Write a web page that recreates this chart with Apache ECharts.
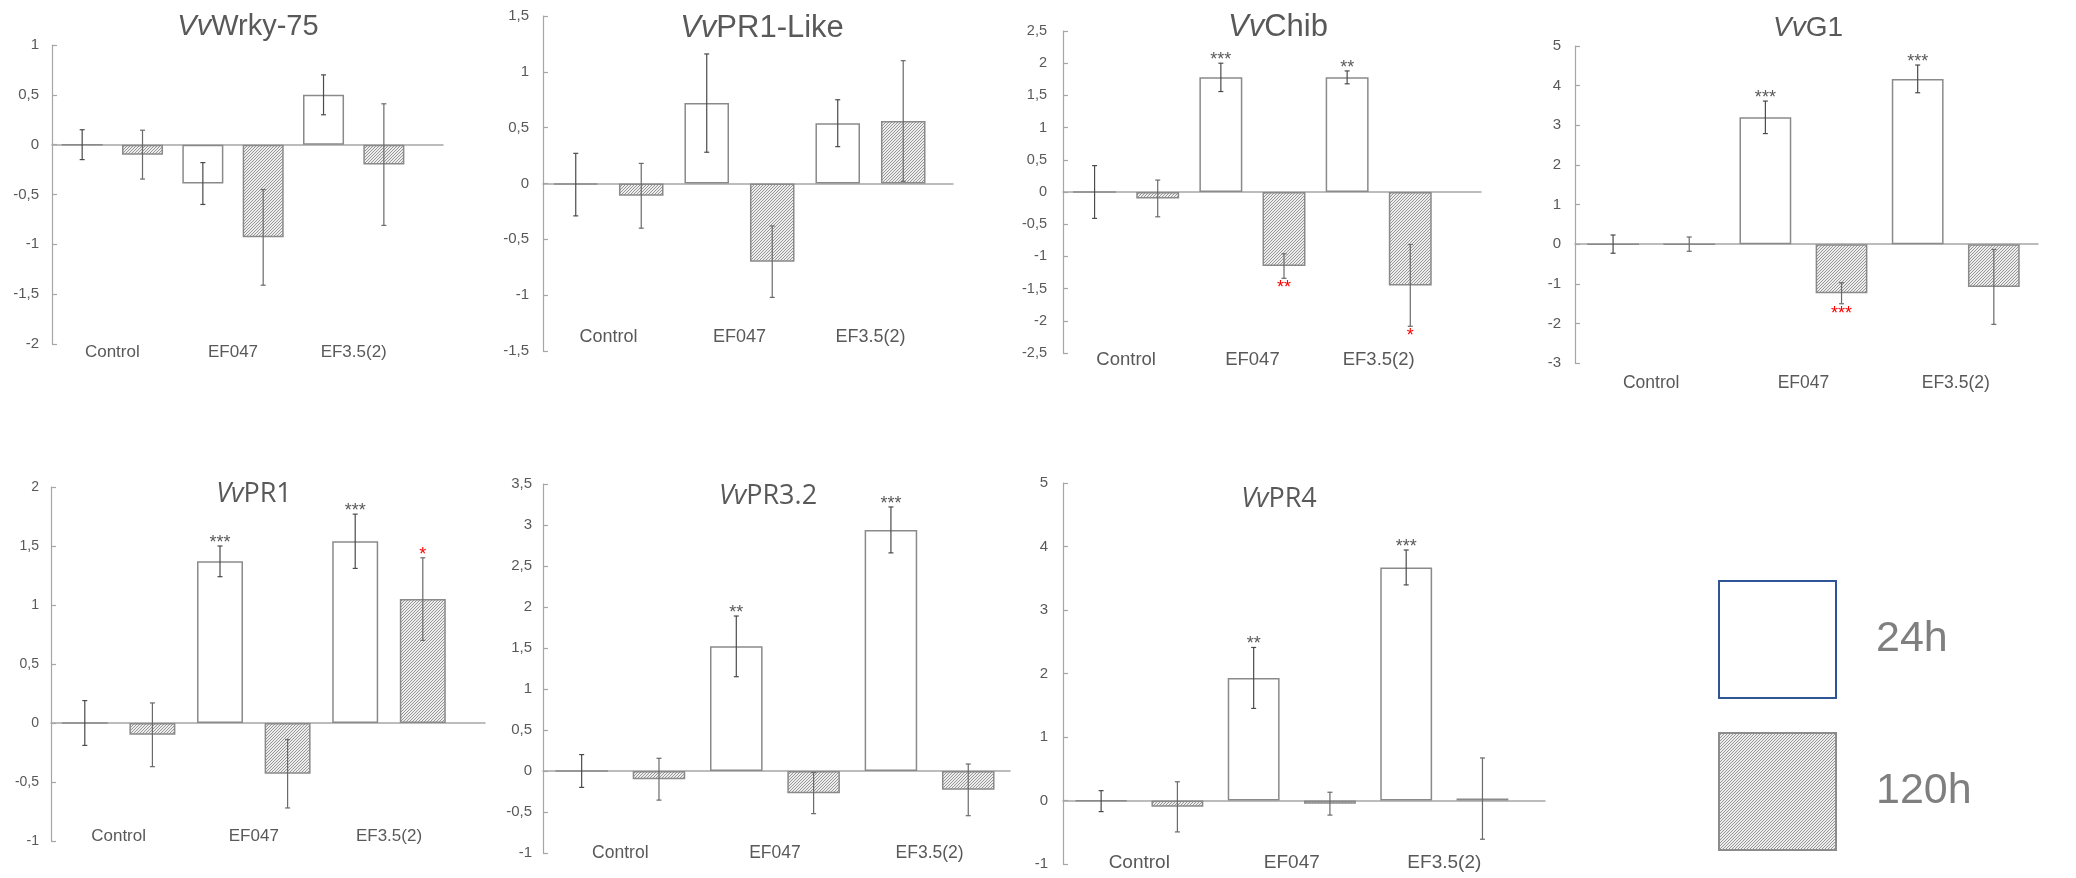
<!DOCTYPE html>
<html>
<head>
<meta charset="utf-8">
<script src="https://cdn.jsdelivr.net/npm/echarts@6/dist/echarts.min.js"></script>
<style>
html,body{margin:0;padding:0;background:#ffffff;}
#chart{width:2076px;height:878px;}
</style>
</head>
<body>
<div id="chart"></div>
<script>
// ---------------- DATA ----------------
const genePrefix = 'Vv';
const genes = ['Wrky-75', 'PR1-Like', 'Chib', 'G1', 'PR1', 'PR3.2', 'PR4'];
const categories = ['Control', 'EF047', 'EF3.5(2)'];
const seriesNames = ['24h', '120h'];

const mean24 = [
  [0, -0.39, 0.50],
  [-0.01, 0.72, 0.54],
  [0, 1.78, 1.78],
  [0, 3.20, 4.17],
  [0, 1.37, 1.54],
  [0, 1.52, 2.94],
  [-0.01, 1.93, 3.67]
];
const err24 = [
  [0.15, 0.21, 0.20],
  [0.28, 0.44, 0.21],
  [0.41, 0.22, 0.10],
  [0.23, 0.41, 0.35],
  [0.19, 0.13, 0.23],
  [0.20, 0.37, 0.28],
  [0.165, 0.48, 0.275]
];
const mean120 = [
  [-0.10, -0.93, -0.20],
  [-0.11, -0.70, 0.56],
  [-0.10, -1.15, -1.45],
  [0, -1.24, -1.08],
  [-0.10, -0.43, 1.05],
  [-0.10, -0.27, -0.23],
  [-0.10, -0.05, 0.03]
];
const err120 = [
  [0.245, 0.48, 0.61],
  [0.29, 0.32, 0.54],
  [0.285, 0.19, 0.635],
  [0.18, 0.265, 0.945],
  [0.27, 0.29, 0.35],
  [0.255, 0.25, 0.315],
  [0.395, 0.18, 0.64]
];
const stars24 = [
  ['', '', ''],
  ['', '', ''],
  ['', '***', '**'],
  ['', '***', '***'],
  ['', '***', '***'],
  ['', '**', '***'],
  ['', '**', '***']
];
const stars120 = [
  ['', '', ''],
  ['', '', ''],
  ['', '**', '*'],
  ['', '***', ''],
  ['', '', '*'],
  ['', '', ''],
  ['', '', '']
];
// y-axis tick ranges
const yMin = [-2, -1.5, -2.5, -3, -1, -1, -1];
const yMax = [1, 1.5, 2.5, 5, 2, 3.5, 5];
const yStep = [0.5, 0.5, 0.5, 1, 0.5, 0.5, 1];

// ---------------- LAYOUT (positions / sizes / styles) ----------------
const layout = [
  {left: 52,   top: 45,  width: 391, height: 299, xMax: 2.74, tx: 248,  ty: 27,  ts: 29, tf: 'Liberation Sans', tick: 15,   tm: 13, cat: 17,   cm: 0},
  {left: 543,  top: 16,  width: 410, height: 335, xMax: 2.63, tx: 762,  ty: 28,  ts: 31, tf: 'Liberation Sans', tick: 15,   tm: 14, cat: 18,   cm: -23},
  {left: 1063, top: 31,  width: 418, height: 322, xMax: 2.81, tx: 1278, ty: 27,  ts: 31, tf: 'Liberation Sans', tick: 14.5, tm: 16, cat: 18.5, cm: -3},
  {left: 1575, top: 46,  width: 463, height: 317, xMax: 2.54, tx: 1808, ty: 28,  ts: 28, tf: 'Liberation Sans', tick: 15,   tm: 14, cat: 17.5, cm: 11},
  {left: 51,   top: 487, width: 434, height: 354, xMax: 2.71, tx: 254,  ty: 494, ts: 27, tf: 'Open Sans',       tick: 14,   tm: 12, cat: 17,   cm: -13},
  {left: 543,  top: 484, width: 467, height: 369, xMax: 2.52, tx: 768,  ty: 496, ts: 27, tf: 'Open Sans',       tick: 15,   tm: 11, cat: 17.5, cm: -9},
  {left: 1063, top: 483, width: 482, height: 381, xMax: 2.66, tx: 1279, ty: 499, ts: 27, tf: 'Open Sans',       tick: 15,   tm: 15, cat: 19,   cm: -11}
];
const pairOffset = 0.25;
const textColor = '#595959';
const axisColor = '#a6a6a6';

// hatch pattern for 120h
function makeHatch() {
  const c = document.createElement('canvas');
  c.width = 3; c.height = 3;
  const g = c.getContext('2d');
  g.fillStyle = '#ededed';
  g.fillRect(0, 0, 3, 3);
  g.fillStyle = '#969696';
  g.fillRect(0, 2, 1, 1);
  g.fillRect(1, 1, 1, 1);
  g.fillRect(2, 0, 1, 1);
  return c;
}
const hatch = {image: makeHatch(), repeat: 'repeat'};

function fmtComma(v) {
  return String(Math.round(v * 100) / 100).replace('.', ',');
}

const grids = [], xAxes = [], yAxes = [], titles = [], series = [];

function errRender(means, errs, stars, lineColor, starColor) {
  return function (params, api) {
    const x = api.value(0), m = api.value(1), e = api.value(2);
    const top = api.coord([x, m + e]);
    const bot = api.coord([x, m - e]);
    const cap = 2.5;
    const st = {stroke: lineColor, lineWidth: 1.2};
    const children = [
      {type: 'line', shape: {x1: top[0], y1: top[1], x2: bot[0], y2: bot[1]}, style: st},
      {type: 'line', shape: {x1: top[0] - cap, y1: top[1], x2: top[0] + cap, y2: top[1]}, style: st},
      {type: 'line', shape: {x1: bot[0] - cap, y1: bot[1], x2: bot[0] + cap, y2: bot[1]}, style: st}
    ];
    const s = stars[params.dataIndex];
    if (s) {
      children.push({
        type: 'text',
        x: top[0],
        y: m >= 0 ? top[1] - 3 : bot[1] + 10,
        style: {text: s, fill: starColor, font: '18px "Liberation Sans", Arial, sans-serif', align: 'center', verticalAlign: 'middle'}
      });
    }
    return {type: 'group', children: children};
  };
}

genes.forEach(function (gene, k) {
  const L = layout[k];
  grids.push({left: L.left, top: L.top, width: L.width, height: L.height, containLabel: false});
  // x axis drawn at zero (line only)
  xAxes.push({
    type: 'value', gridIndex: k, min: -0.5, max: L.xMax,
    axisLine: {show: true, onZero: true, lineStyle: {color: axisColor, width: 1.5}},
    axisTick: {show: false}, axisLabel: {show: false}, splitLine: {show: false}
  });
  // x axis at bottom: category labels only
  xAxes.push({
    type: 'value', gridIndex: k, min: -0.5, max: L.xMax, position: 'bottom',
    axisLine: {show: false, onZero: false}, axisTick: {show: false}, splitLine: {show: false},
    axisLabel: {
      show: true, customValues: categories.map(function (c, i) { return i; }),
      formatter: function (v) { return categories[Math.round(v)] || ''; },
      color: textColor, fontSize: L.cat, margin: L.cm, fontFamily: 'Liberation Sans'
    }
  });
  yAxes.push({
    type: 'value', gridIndex: k, min: yMin[k], max: yMax[k], interval: yStep[k], position: 'left',
    axisLine: {show: true, onZero: false, lineStyle: {color: axisColor, width: 1.2}},
    axisTick: {show: true, inside: true, length: 5, lineStyle: {color: axisColor, width: 1.2}},
    splitLine: {show: false},
    axisLabel: {formatter: fmtComma, color: textColor, fontSize: L.tick, margin: L.tm, fontFamily: 'Liberation Sans'}
  });
  titles.push({
    text: '{i|' + genePrefix + '}{n|' + gene + '}',
    left: L.tx, top: L.ty, padding: 0,
    textAlign: 'center', textVerticalAlign: 'middle',
    textStyle: {
      fontSize: L.ts, color: textColor, fontWeight: 'normal', fontFamily: L.tf,
      rich: {
        i: {fontStyle: 'italic', fontSize: L.ts, color: textColor, fontFamily: L.tf},
        n: {fontSize: L.ts, color: textColor, fontFamily: L.tf}
      }
    }
  });
  const xa = 2 * k;
  const d24 = categories.map(function (c, i) { return [i - pairOffset, mean24[k][i]]; });
  const d120 = categories.map(function (c, i) { return [i + pairOffset, mean120[k][i]]; });
  series.push({
    name: seriesNames[0], type: 'bar', xAxisIndex: xa, yAxisIndex: k,
    data: d24, barWidth: '68%', barGap: '-100%',
    itemStyle: {color: '#ffffff', borderColor: '#8a8a8a', borderWidth: 1.5},
    emphasis: {disabled: true}, z: 2
  });
  series.push({
    name: seriesNames[1], type: 'bar', xAxisIndex: xa, yAxisIndex: k,
    data: d120, barWidth: '68%', barGap: '-100%',
    itemStyle: {color: hatch, borderColor: '#8a8a8a', borderWidth: 1.5},
    emphasis: {disabled: true}, z: 2
  });
  series.push({
    name: 'err24_' + k, type: 'custom', xAxisIndex: xa, yAxisIndex: k, clip: false, z: 5,
    encode: {x: 0, y: 1},
    data: categories.map(function (c, i) { return [i - pairOffset, mean24[k][i], err24[k][i]]; }),
    renderItem: errRender(mean24[k], err24[k], stars24[k], '#4a4a4a', '#595959')
  });
  series.push({
    name: 'err120_' + k, type: 'custom', xAxisIndex: xa, yAxisIndex: k, clip: false, z: 5,
    encode: {x: 0, y: 1},
    data: categories.map(function (c, i) { return [i + pairOffset, mean120[k][i], err120[k][i]]; }),
    renderItem: errRender(mean120[k], err120[k], stars120[k], '#6a6a6a', '#ff0000')
  });
});

const chart = echarts.init(document.getElementById('chart'), null, {renderer: 'canvas'});
chart.setOption({
  backgroundColor: '#ffffff',
  animation: false,
  textStyle: {fontFamily: 'Liberation Sans'},
  title: titles,
  grid: grids,
  xAxis: xAxes,
  yAxis: yAxes,
  legend: {
    left: 1718, top: 580, padding: 0,
    orient: 'vertical', icon: 'rect',
    itemWidth: 117, itemHeight: 117, itemGap: 33,
    selectedMode: false,
    textStyle: {fontSize: 43, color: '#7f7f7f', padding: [0, 0, 0, 35], fontFamily: 'Liberation Sans'},
    data: [
      {name: seriesNames[0], itemStyle: {color: '#ffffff', borderColor: '#2f5597', borderWidth: 2}},
      {name: seriesNames[1], itemStyle: {borderColor: '#8c8c8c', borderWidth: 2}}
    ]
  },
  series: series
});
</script>
</body>
</html>
